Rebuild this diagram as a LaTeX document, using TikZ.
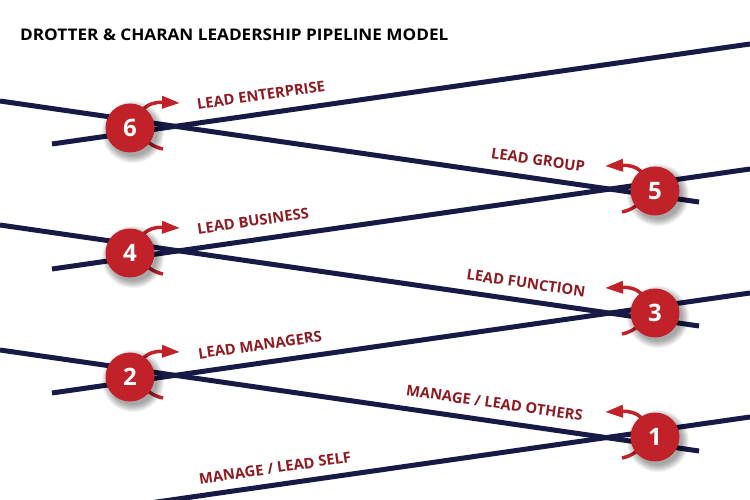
\documentclass[tikz,border=0pt]{standalone}
\usepackage{fontspec}
\setmainfont{Open Sans}
\usetikzlibrary{arrows.meta,calc}
\definecolor{navy}{HTML}{161A45}
\definecolor{pipered}{HTML}{C1222A}
\definecolor{labelred}{HTML}{8E1B22}
\begin{document}
\begin{tikzpicture}[x=1pt,y=-1pt,
  pipeline/.style={draw=navy,line width=5pt},
  numcirc/.style={circle,fill=pipered,minimum size=49pt,inner sep=0pt,text=white,font=\bfseries\fontsize{24}{24}\selectfont},
  steplabel/.style={text=labelred,font=\bfseries\fontsize{14.8}{14.8}\selectfont,inner sep=0pt},
  turn/.style={draw=pipered,line width=3.5pt,-{Triangle[length=18pt,width=12pt]}},
  shade layer/.style={fill=black,opacity=0.05}]
\useasboundingbox (0,0) rectangle (750,500);
\clip (0,0) rectangle (750,500);
% title
\node[anchor=base west,inner sep=0pt,xscale=1.073,font=\bfseries\fontsize{16}{16}\selectfont] (title) at (20,41) {DROTTER \& CHARAN LEADERSHIP PIPELINE MODEL};
% line end points
\coordinate (r1a) at (52,517); \coordinate (r1b) at (750,417);
\coordinate (r2a) at (52,393); \coordinate (r2b) at (750,293);
\coordinate (r3a) at (52,269); \coordinate (r3b) at (750,169);
\coordinate (r4a) at (52,144); \coordinate (r4b) at (750,44);
\coordinate (d1a) at (0,350); \coordinate (d1b) at (699,451);
\coordinate (d2a) at (0,225); \coordinate (d2b) at (699,326);
\coordinate (d3a) at (0,101); \coordinate (d3b) at (699,202);
\draw[pipeline] (r1a) -- (r1b);
\draw[pipeline] (r2a) -- (r2b);
\draw[pipeline] (r3a) -- (r3b);
\draw[pipeline] (r4a) -- (r4b);
\draw[pipeline] (d1a) -- (d1b);
\draw[pipeline] (d2a) -- (d2b);
\draw[pipeline] (d3a) -- (d3b);
% circle centres
\coordinate (p1) at (655,437);
\coordinate (p2) at (130,377);
\coordinate (p3) at (655,313);
\coordinate (p4) at (130,253);
\coordinate (p5) at (655,191);
\coordinate (p6) at (130,128);
% turning arrows
\foreach \p in {p2,p4,p6}{
  \draw[turn] ($(\p)+(33,21)$) .. controls ($(\p)+(0,14)$) and ($(\p)+(0,-27)$) .. ($(\p)+(50,-25)$);
}
\foreach \p in {p1,p3,p5}{
  \draw[turn] ($(\p)+(-33,21)$) .. controls ($(\p)+(0,14)$) and ($(\p)+(0,-27)$) .. ($(\p)+(-50,-25)$);
}
% shadows
\foreach \p in {p1,p2,p3,p4,p5,p6}{
  \foreach \r in {31,30,29,28,27,26,25,24}{
    \fill[shade layer] ($(\p)+(3,4)$) circle (\r pt);
  }
}
% circles
\node[numcirc] (c1) at (p1) {1};
\node[numcirc] (c2) at (p2) {2};
\node[numcirc] (c3) at (p3) {3};
\node[numcirc] (c4) at (p4) {4};
\node[numcirc] (c5) at (p5) {5};
\node[numcirc] (c6) at (p6) {6};
% labels
\node[steplabel,rotate=8.2] (l6) at (261,95) {LEAD ENTERPRISE};
\node[steplabel,rotate=-8.2] (l5) at (538,160) {LEAD GROUP};
\node[steplabel,rotate=8.2] (l4) at (253,221) {LEAD BUSINESS};
\node[steplabel,rotate=-8.2] (l3) at (526,283) {LEAD FUNCTION};
\node[steplabel,rotate=8.2] (l2) at (260,345) {LEAD MANAGERS};
\node[steplabel,rotate=-8.2] (l1) at (494.5,403) {MANAGE / LEAD OTHERS};
\node[steplabel,rotate=8.2] (l0) at (275,468) {MANAGE / LEAD SELF};
\end{tikzpicture}
\end{document}
